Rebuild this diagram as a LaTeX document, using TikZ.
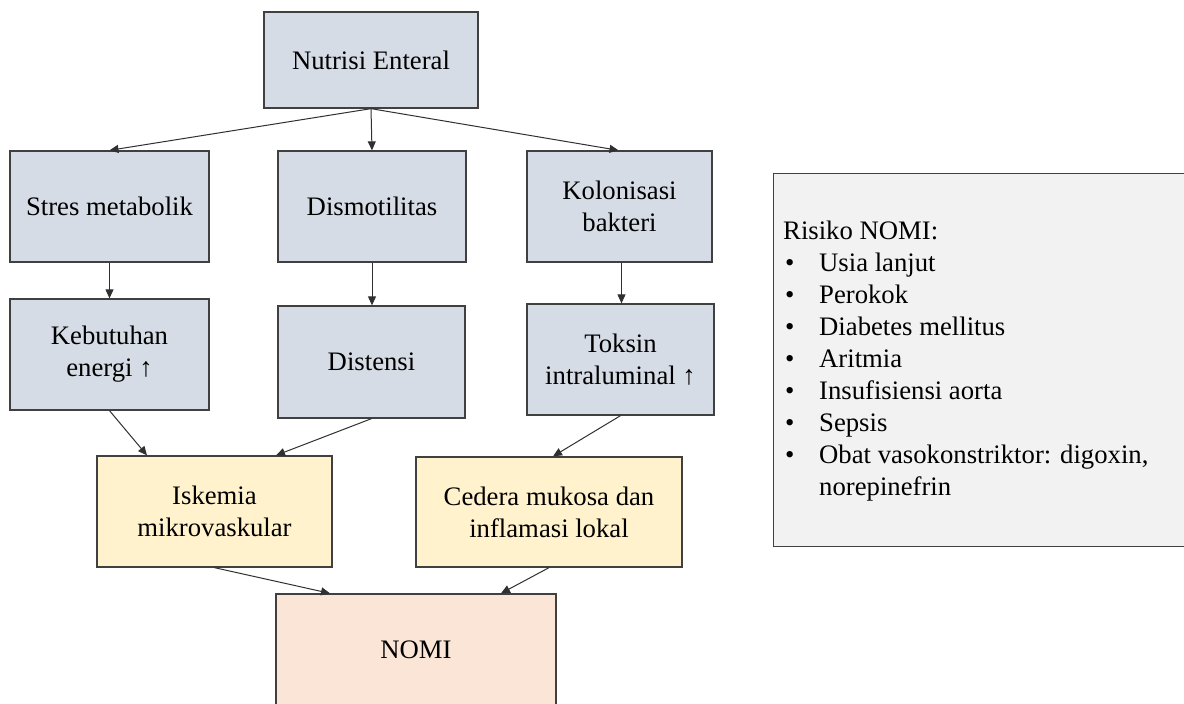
\documentclass[tikz,border=0pt]{standalone}
\usepackage{fontspec}
\setmainfont{Liberation Serif}
\usetikzlibrary{arrows.meta}
\definecolor{boxblue}{HTML}{D6DCE5}
\definecolor{boxyellow}{HTML}{FFF2CC}
\definecolor{boxpeach}{HTML}{FBE5D6}
\definecolor{boxgray}{HTML}{F2F2F2}
\definecolor{edgegray}{HTML}{404040}
\definecolor{linegray}{HTML}{303030}
\tikzset{
  flowbox/.style={draw=edgegray, line width=1.3pt, inner sep=0pt, align=center,
    font=\fontsize{26.7}{32}\selectfont},
  bluebox/.style={flowbox, fill=boxblue},
  yellowbox/.style={flowbox, fill=boxyellow},
  peachbox/.style={flowbox, fill=boxpeach},
  link/.style={draw=linegray, line width=1pt, -{Triangle[length=9pt,width=8pt]}}
}
\begin{document}
\begin{tikzpicture}[x=1pt,y=-1pt]
\useasboundingbox (0,0) rectangle (1184,704);
\clip (0,0) rectangle (1184,704);
\fill[white] (0,0) rectangle (1184,704);

% causal chain
\node[bluebox, minimum width=214pt, minimum height=96pt] (top) at (371,60) {Nutrisi Enteral};

\node[bluebox, minimum width=199pt, minimum height=111pt] (stres) at (109.5,206.5) {Stres metabolik};
\node[bluebox, minimum width=188pt, minimum height=111pt] (dismo) at (372,206.5) {Dismotilitas};
\node[bluebox, minimum width=185pt, minimum height=111pt] (kolon) at (619.5,206.5) {Kolonisasi\\bakteri};

\node[bluebox, minimum width=199pt, minimum height=111pt] (kebut) at (109.5,354.5) {Kebutuhan\\energi ↑};
\node[bluebox, minimum width=187pt, minimum height=112pt] (disten) at (371.5,362) {Distensi};
\node[bluebox, minimum width=187pt, minimum height=111pt] (toksin) at (620.5,359.5) {Toksin\\intraluminal ↑};

\node[yellowbox, minimum width=235pt, minimum height=111pt] (iskemia) at (214.5,511.5) {Iskemia\\mikrovaskular};
\node[yellowbox, minimum width=266pt, minimum height=110pt] (cedera) at (549,512) {Cedera mukosa dan\\inflamasi lokal};

\node[peachbox, minimum width=280pt, minimum height=112pt] (nomi) at (416,650) {NOMI};

% connectors
\draw[link] (top.south) -- (stres.north);
\draw[link] (top.south) -- (dismo.north);
\draw[link] (top.south) -- ([xshift=-1pt]kolon.north);
\draw[link] (stres.south) -- (kebut.north);
\draw[link] (dismo.south) -- (dismo.south |- disten.north);
\draw[link] ([xshift=2pt]kolon.south) -- ([xshift=2pt]kolon.south |- toksin.north);
\draw[link] (kebut.south) -- ([xshift=-67.5pt]iskemia.north);
\draw[link] (disten.south) -- ([xshift=61.5pt]iskemia.north);
\draw[link] (toksin.south) -- ([xshift=4pt]cedera.north);
\draw[link] (iskemia.south) -- ([xshift=-86pt]nomi.north);
\draw[link] (cedera.south) -- ([xshift=85pt]nomi.north);

% risk factor panel
\node[draw=edgegray, line width=1.3pt, fill=boxgray, inner sep=0pt,
  minimum width=430pt, minimum height=373pt, anchor=north west] (riskbox) at (773,173) {};
\node[anchor=west, inner sep=0pt, align=left,
  font=\fontsize{26.7}{32}\selectfont] (risktext) at ([xshift=10pt]riskbox.west |- 0,361)
{Risiko NOMI:\\
\makebox[36pt][l]{\hspace{2pt}•}Usia lanjut\\
\makebox[36pt][l]{\hspace{2pt}•}Perokok\\
\makebox[36pt][l]{\hspace{2pt}•}Diabetes mellitus\\
\makebox[36pt][l]{\hspace{2pt}•}Aritmia\\
\makebox[36pt][l]{\hspace{2pt}•}Insufisiensi aorta\\
\makebox[36pt][l]{\hspace{2pt}•}Sepsis\\
\makebox[36pt][l]{\hspace{2pt}•}Obat vasokonstriktor: digoxin,\\
\hspace{36pt}norepinefrin};
\end{tikzpicture}
\end{document}
